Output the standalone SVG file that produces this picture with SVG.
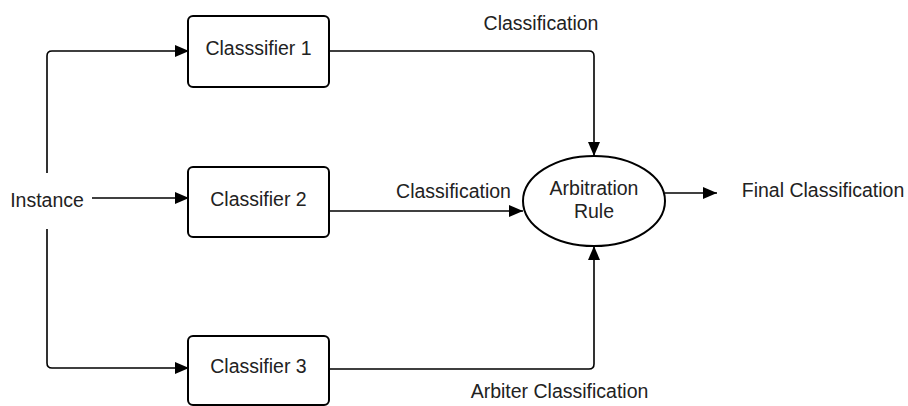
<svg xmlns="http://www.w3.org/2000/svg" width="908" height="406" viewBox="0 0 908 406">
<style>
.box{fill:#fff;stroke:#000;stroke-width:2}
.lbl{font-family:"Liberation Sans",Arial,sans-serif;font-size:19.5px;fill:#222;text-anchor:middle}
.con{fill:none;stroke:#000;stroke-width:1.6;marker-end:url(#ah)}
</style>
<defs>
<marker id="ah" markerUnits="userSpaceOnUse" markerWidth="15" markerHeight="13" refX="14" refY="6" orient="auto">
<path d="M0,0 L14,6 L0,12 z" fill="#000"/>
</marker>
</defs>
<rect width="908" height="406" fill="#fff"/>
<g id="connectors">
<path class="con" d="M47,173 V56 Q47,51 52,51 H189"/>
<path class="con" d="M92,198 H189"/>
<path class="con" d="M47,229 V363 Q47,368 52,368 H189"/>
<path class="con" d="M329,51 H589 Q594,51 594,56 V156"/>
<path class="con" d="M329,211 H523"/>
<path class="con" d="M329,369 H589 Q594,369 594,364 V246"/>
<path class="con" d="M665,193 H717"/>
</g>
<g id="instance"><text class="lbl" x="47" y="207">Instance</text></g>
<g id="classifier1"><rect class="box" x="188" y="16" width="141" height="71" rx="5"/><text class="lbl" x="258.5" y="55">Classsifier 1</text></g>
<g id="classifier2"><rect class="box" x="188" y="167" width="141" height="70" rx="5"/><text class="lbl" x="258.5" y="206">Classifier 2</text></g>
<g id="classifier3"><rect class="box" x="188" y="336" width="141" height="69" rx="5"/><text class="lbl" x="258.5" y="373">Classifier 3</text></g>
<g id="arbitration"><ellipse class="box" cx="594" cy="201" rx="71" ry="45"/><text class="lbl" x="594" y="195">Arbitration</text><text class="lbl" x="594" y="218">Rule</text></g>
<g id="final"><text class="lbl" x="823" y="197">Final Classification</text></g>
<g id="labels">
<text class="lbl" x="541" y="30">Classification</text>
<text class="lbl" x="453.5" y="198">Classification</text>
<text class="lbl" x="559.5" y="398">Arbiter Classification</text>
</g>
</svg>
